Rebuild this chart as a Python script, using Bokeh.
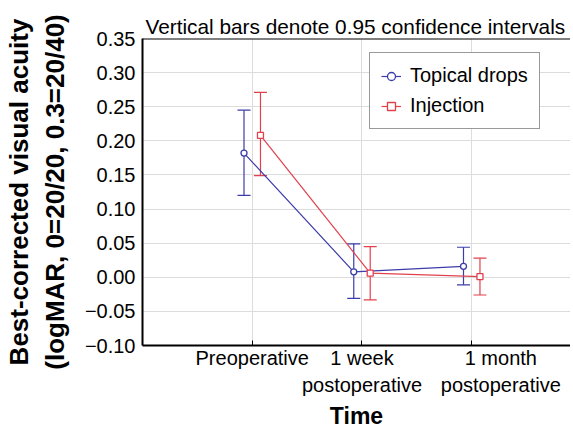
from bokeh.plotting import figure
from bokeh.models import (ColumnDataSource, Whisker, TeeHead, FixedTicker, CustomJSTickFormatter,
                          Span, Legend, LegendItem, Range1d)
from bokeh.embed import file_html
from bokeh.resources import INLINE

categories = ["Preoperative", "1 week\npostoperative", "1 month\npostoperative"]
topical_mean = [0.182, 0.008, 0.016]
topical_lower = [0.120, -0.031, -0.011]
topical_upper = [0.245, 0.049, 0.044]
injection_mean = [0.208, 0.006, 0.001]
injection_lower = [0.149, -0.033, -0.026]
injection_upper = [0.271, 0.045, 0.028]
y_ticks = [-0.10, -0.05, 0.00, 0.05, 0.10, 0.15, 0.20, 0.25, 0.30, 0.35]

BLUE = "#3c3caa"
RED = "#e2404c"
FONT = "Liberation Sans"

pos = [1, 2, 3]
off = 0.075
# in the reference the last category's label sits right of its tick
label_pos = [1, 2, 3.265]

p = figure(frame_width=428, frame_height=307, output_backend="svg", toolbar_location=None,
           x_range=Range1d(0, 3.9), y_range=Range1d(-0.10, 0.35),
           min_border_left=138, min_border_right=0, min_border_top=38, min_border_bottom=83)
p.outline_line_color = None
p.background_fill_color = "white"

p.title.text = "Vertical bars denote 0.95 confidence intervals"
p.title.text_font = FONT
p.title.text_font_size = "20.8px"
p.title.text_font_style = "normal"
p.title.text_color = "black"
p.title.align = "left"
p.title.standoff = 2
p.title.offset = 3

# axes
p.xaxis.ticker = FixedTicker(ticks=label_pos, minor_ticks=pos)
p.xaxis.formatter = CustomJSTickFormatter(args=dict(labels=categories), code="""
    return labels[index];
""")
p.xaxis.axis_label = "Time"
p.yaxis.ticker = FixedTicker(ticks=y_ticks)
p.yaxis.formatter = CustomJSTickFormatter(code="""
    const v = Math.round(tick*100)/100;
    return (v < 0 ? "\\u2212" : "") + Math.abs(v).toFixed(2);
""")
p.yaxis.axis_label = "Best-corrected visual acuity\n(logMAR, 0=20/20, 0.3=20/40)"

for ax in (p.xaxis[0], p.yaxis[0]):
    ax.axis_line_color = "black"
    ax.axis_line_width = 2
    ax.major_label_text_font = FONT
    ax.major_label_text_font_size = "20px"
    ax.major_label_text_color = "black"
    ax.axis_label_text_font = FONT
    ax.axis_label_text_font_style = "bold"
    ax.axis_label_text_color = "black"
ax = p.xaxis[0]
ax.major_tick_line_color = None
ax.major_tick_in = 0
ax.major_tick_out = 0
ax.minor_tick_line_color = "black"
ax.minor_tick_in = 5
ax.minor_tick_out = 0
ax.major_label_standoff = 1
ax.major_label_text_line_height = 1.25
ax.axis_label_text_font_size = "23px"
ax.axis_label_standoff = 4
ay = p.yaxis[0]
ay.minor_tick_line_color = None
ay.major_tick_in = 0
ay.major_tick_out = 0
ay.major_label_standoff = 7
ay.axis_label_text_font_size = "26px"
ay.axis_label_standoff = 12

p.xgrid.ticker = FixedTicker(ticks=pos)
p.xgrid.grid_line_color = "#dcdcdc"
p.ygrid.grid_line_color = "#dcdcdc"
p.xgrid.grid_line_width = 1
p.ygrid.grid_line_width = 1

p.add_layout(Span(location=0.35, dimension="width", line_color="black", line_width=2))

xs_t = [x - off for x in pos]
xs_i = [x + off for x in pos]
src_t = ColumnDataSource(dict(x=xs_t, y=topical_mean, lo=topical_lower, hi=topical_upper))
src_i = ColumnDataSource(dict(x=xs_i, y=injection_mean, lo=injection_lower, hi=injection_upper))

for src, col in ((src_t, BLUE), (src_i, RED)):
    w = Whisker(base="x", upper="hi", lower="lo", source=src, line_color=col, line_width=1.2,
                upper_head=TeeHead(size=13, line_color=col, line_width=1.2),
                lower_head=TeeHead(size=13, line_color=col, line_width=1.2))
    p.add_layout(w)

lt = p.line("x", "y", source=src_t, line_color=BLUE, line_width=1.2)
li = p.line("x", "y", source=src_i, line_color=RED, line_width=1.2)
st = p.scatter("x", "y", source=src_t, marker="circle", size=6, line_color=BLUE,
               fill_color="white", line_width=1.3)
si = p.scatter("x", "y", source=src_i, marker="square", size=6, line_color=RED,
               fill_color="white", line_width=1.3)

legend = Legend(items=[LegendItem(label="Topical drops", renderers=[lt, st]),
                       LegendItem(label="Injection", renderers=[li, si])],
                location=(227, 216))
legend.label_text_font = FONT
legend.label_text_font_size = "20px"
legend.label_text_color = "black"
legend.border_line_color = "#333333"
legend.border_line_width = 1.5
legend.glyph_width = 20
legend.glyph_height = 20
legend.label_height = 20
legend.spacing = 7
legend.padding = 11
legend.margin = 0
legend.label_standoff = 9
legend.background_fill_alpha = 1
p.add_layout(legend, "center")

open("out.html", "w").write(file_html(p, INLINE))
